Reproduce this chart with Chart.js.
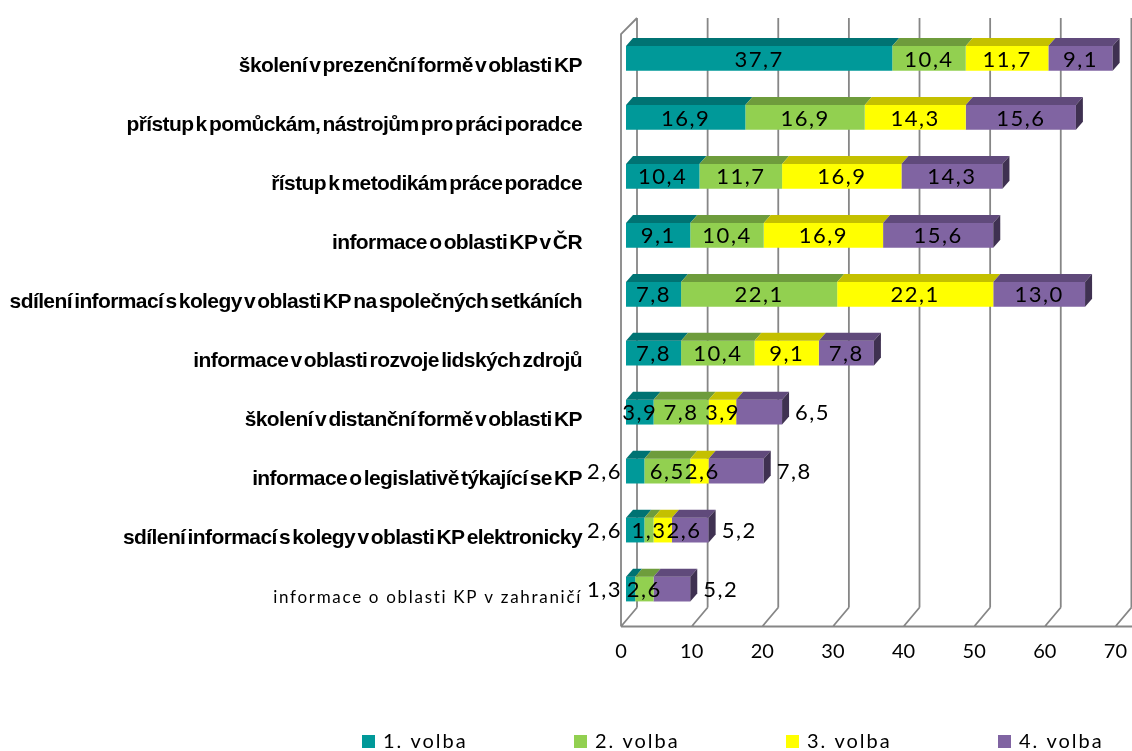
<!DOCTYPE html>
<html>
<head>
<meta charset="utf-8">
<script src="https://cdn.jsdelivr.net/npm/chart.js@4/dist/chart.umd.min.js"></script>
<style>
  html, body { margin: 0; padding: 0; background: #fff; }
  #wrap { width: 1132px; height: 751px; }
</style>
</head>
<body>
<div id="wrap"><canvas id="chart"></canvas></div>
<script>
const categories = [
  'školení v prezenční formě v oblasti KP',
  'přístup k pomůckám, nástrojům pro práci poradce ',
  'řístup k metodikám práce poradce ',
  'informace o oblasti KP v ČR',
  'sdílení informací s kolegy v oblasti KP na společných setkáních ',
  'informace v oblasti rozvoje lidských zdrojů ',
  'školení v distanční formě v oblasti KP',
  'informace o legislativě týkající se KP',
  'sdílení informací s kolegy v oblasti KP elektronicky ',
  'informace o oblasti KP v zahraničí',
]
const volba1 = [37.7, 16.9, 10.4, 9.1, 7.8, 7.8, 3.9, 2.6, 2.6, 1.3]
const volba2 = [10.4, 16.9, 11.7, 10.4, 22.1, 10.4, 7.8, 6.5, 1.3, 2.6]
const volba3 = [11.7, 14.3, 16.9, 16.9, 22.1, 9.1, 3.9, 2.6, 2.6, 0]
const volba4 = [9.1, 15.6, 14.3, 15.6, 13.0, 7.8, 6.5, 7.8, 5.2, 5.2]
const seriesNames = ['1. volba', '2. volba', '3. volba', '4. volba']
const xMax = 70
const xStep = 10

const frontColors = ['#009999', '#92d050', '#ffff00', '#8064a2']
const topColors = ['#007373', '#6e9c3c', '#c4c000', '#604a7b']
const sideColor = '#3f3151'

// 3d geometry (px)
const BAR_DX = 5, BAR_DY = -8      // bar front face offset from the front axis plane
const DEPTH_X = 7, DEPTH_Y = 8     // bar extrusion
const WALL_X = 16, WALL_Y = 19     // back wall offset
const LABEL_RIGHT = 582

const fmt = v => v.toFixed(1).replace('.', ',')

const wallPlugin = {
  id: 'wall3d',
  beforeDatasetsDraw(chart) {
    const { ctx, chartArea: a, scales: { x } } = chart
    ctx.save()
    ctx.strokeStyle = '#868686'
    ctx.lineWidth = 1.8
    ctx.beginPath()
    for (let v = 0; v <= xMax; v += xStep) {
      const p = x.getPixelForValue(v)
      // back wall gridline
      ctx.moveTo(p + WALL_X, a.top - WALL_Y)
      ctx.lineTo(p + WALL_X, a.bottom - WALL_Y)
      // floor diagonal
      ctx.moveTo(p, a.bottom)
      ctx.lineTo(p + WALL_X, a.bottom - WALL_Y)
    }
    const p0 = x.getPixelForValue(0)
    // left wall front edge + top edge
    ctx.moveTo(p0, a.bottom)
    ctx.lineTo(p0, a.top - 3)
    ctx.lineTo(p0 + WALL_X, a.top - WALL_Y)
    // floor front edge
    ctx.moveTo(p0, a.bottom)
    ctx.lineTo(chart.width, a.bottom)
    ctx.stroke()
    ctx.restore()

    ctx.save()
    ctx.translate(BAR_DX, BAR_DY)
  },
  afterDatasetsDraw(chart) {
    const { ctx } = chart
    const metas = chart.data.datasets.map((d, i) => chart.getDatasetMeta(i))
    for (let r = 0; r < categories.length; r++) {
      let last = null
      metas.forEach((meta, d) => {
        const el = meta.data[r]
        const { x, base, y, height } = el.getProps(['x', 'base', 'y', 'height'], true)
        if (Math.abs(x - base) < 0.5) return
        const top = y - height / 2
        ctx.fillStyle = topColors[d]
        ctx.beginPath()
        ctx.moveTo(base, top)
        ctx.lineTo(base + DEPTH_X, top - DEPTH_Y)
        ctx.lineTo(x + DEPTH_X, top - DEPTH_Y)
        ctx.lineTo(x, top)
        ctx.closePath()
        ctx.fill()
        last = { x, top, bottom: y + height / 2 }
      })
      if (last) {
        ctx.fillStyle = sideColor
        ctx.beginPath()
        ctx.moveTo(last.x, last.top)
        ctx.lineTo(last.x + DEPTH_X, last.top - DEPTH_Y)
        ctx.lineTo(last.x + DEPTH_X, last.bottom - DEPTH_Y)
        ctx.lineTo(last.x, last.bottom)
        ctx.closePath()
        ctx.fill()
      }
    }
    ctx.restore()

    // value labels
    ctx.save()
    ctx.font = '22px Lato'
    ctx.letterSpacing = '1.5px'
    ctx.fillStyle = '#000'
    ctx.textBaseline = 'middle'
    ctx.textAlign = 'left'
    for (let r = 0; r < categories.length; r++) {
      const segs = []
      let total = 0
      metas.forEach((meta, d) => {
        const v = chart.data.datasets[d].data[r]
        total += v
        if (!v) return
        const { x, base, y } = meta.data[r].getProps(['x', 'base', 'y'], true)
        segs.push({ v, x: x + BAR_DX, base: base + BAR_DX, y: y + BAR_DY })
      })
      let prevRight = -Infinity
      segs.forEach((s, k) => {
        const txt = fmt(s.v)
        const w = ctx.measureText(txt).width
        const segW = s.x - s.base
        let left
        if (k === 0 && segW < 20) left = s.base - 4 - w
        else if (k === segs.length - 1 && total < 25) left = s.x + DEPTH_X + 6
        else left = (s.base + s.x) / 2 - w / 2
        if (left < prevRight) left = prevRight
        ctx.fillText(txt, left, s.y + 1)
        prevRight = left + w
      })
    }
    ctx.restore()
  },
  afterDraw(chart) {
    const { ctx, scales: { y } } = chart
    ctx.save()
    ctx.fillStyle = '#000'
    ctx.textAlign = 'right'
    ctx.textBaseline = 'middle'
    categories.forEach((c, i) => {
      const py = y.getPixelForValue(i)
      if (i === categories.length - 1) {
        ctx.font = '17px Lato'
        ctx.letterSpacing = '1.7px'
        ctx.wordSpacing = '0px'
      } else {
        ctx.font = 'bold 21px "Liberation Sans"'
        ctx.letterSpacing = '-0.6px'
        ctx.wordSpacing = '-3px'
      }
      ctx.fillText(c.trimEnd(), LABEL_RIGHT, py)
    })

    // legend
    ctx.textAlign = 'left'
    ctx.font = '20px Lato'
    ctx.letterSpacing = '2px'
    ctx.wordSpacing = '0px'
    seriesNames.forEach((n, i) => {
      const lx = 362 + i * 212
      ctx.fillStyle = frontColors[i]
      ctx.fillRect(lx, 735, 13, 13)
      ctx.fillStyle = '#000'
      ctx.fillText(n, lx + 21, 742)
    })
    ctx.restore()
  },
}

const datasets = [volba1, volba2, volba3, volba4].map((data, i) => ({
  label: seriesNames[i],
  data,
  backgroundColor: frontColors[i],
  borderWidth: 0,
  barPercentage: 0.42,
  categoryPercentage: 1,
  clip: false,
}))

new Chart(document.getElementById('chart'), {
  type: 'bar',
  data: { labels: categories, datasets },
  options: {
    indexAxis: 'y',
    responsive: true,
    maintainAspectRatio: false,
    animation: false,
    layout: { padding: { left: 621, right: 12, top: 37, bottom: 0 } },
    plugins: {
      legend: { display: false },
      tooltip: { enabled: false },
    },
    scales: {
      x: {
        stacked: true,
        min: 0,
        max: xMax,
        grid: { display: false },
        border: { display: false },
        ticks: { stepSize: xStep, padding: 5, color: '#000', font: { family: 'Lato', size: 20 } },
        afterFit(scale) { scale.height = 124.5 },
      },
      y: {
        stacked: true,
        display: false,
      },
    },
  },
  plugins: [wallPlugin],
})
</script>
</body>
</html>
